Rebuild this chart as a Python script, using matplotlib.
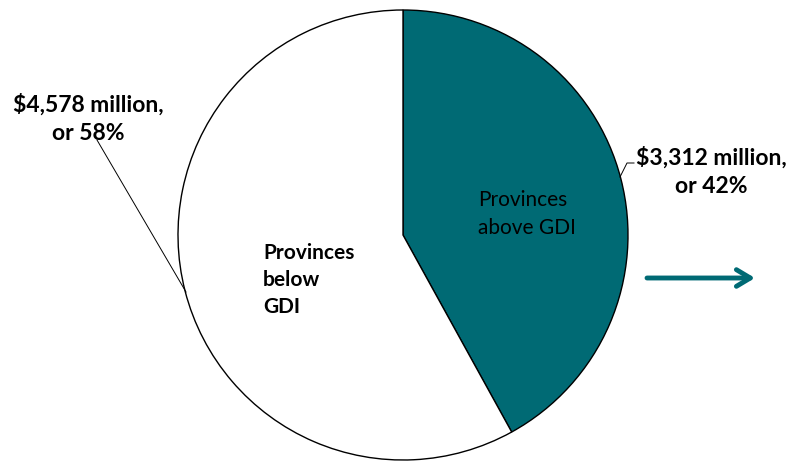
import matplotlib

matplotlib.use("Agg")
import matplotlib.pyplot as plt

# data
labels = ["Provinces\nabove GDI", "Provinces\nbelow\nGDI"]
values = [3312, 4578]  # $ million
pct = [42, 58]
colors = ["#006A74", "#FFFFFF"]
TEAL = "#006A74"

W, H = 788, 461
fig = plt.figure(figsize=(W / 100, H / 100), dpi=100)
ax = fig.add_axes([0, 0, 1, 1])

cx, cy, r = 403, 235, 225
# pie drawn in a flipped y axis -> counterclock in data = clockwise on screen
ax.pie(values, colors=colors, startangle=-90, counterclock=True,
       center=(cx, cy), radius=r, frame=True,
       wedgeprops=dict(edgecolor="black", linewidth=1.0))
ax.set_xlim(0, W); ax.set_ylim(H, 0)
ax.set_aspect("equal")
ax.axis("off")

plt.rcParams["font.family"] = ["Lato", "DejaVu Sans"]
ax.text(478, 214, labels[0], fontsize=15, color="black", va="center", ha="left",
        linespacing=1.45)
ax.text(263, 280, labels[1], fontsize=15, color="black", va="center", ha="left",
        fontweight="bold", linespacing=1.45)

ax.text(88, 119, f"${values[1]:,} million,\nor {pct[1]}%", fontsize=16.5,
        fontweight="bold", ha="center", va="center", linespacing=1.45)
ax.text(711, 172, f"${values[0]:,} million,\nor {pct[0]}%", fontsize=16.5,
        fontweight="bold", ha="center", va="center", linespacing=1.45)

# leader lines
ax.plot([97, 186], [140, 292], color="black", lw=0.7)
ax.plot([634, 627, 620], [163, 163, 177], color="black", lw=0.7)

ax.annotate("", xy=(755, 278), xytext=(647, 278),
            arrowprops=dict(arrowstyle="->,head_length=1.0,head_width=0.6",
                            color=TEAL, lw=3.5, shrinkA=0, shrinkB=0))

fig.savefig("out.png", dpi=100)
